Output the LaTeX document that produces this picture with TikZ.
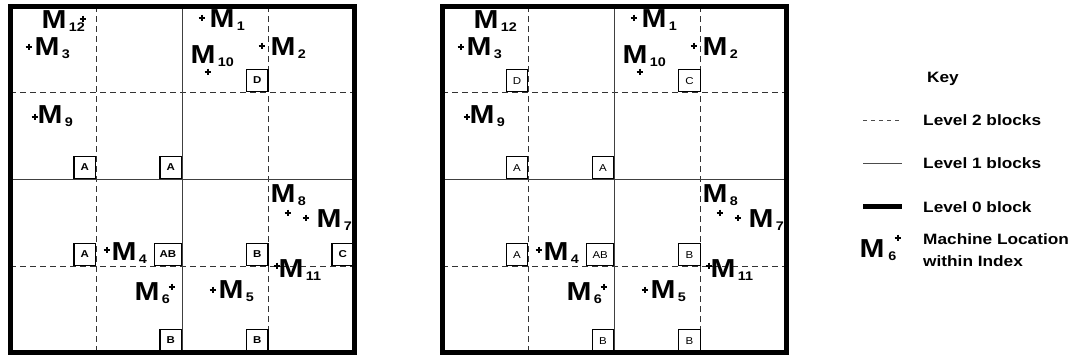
\documentclass[tikz,border=0pt]{standalone}
\usepackage{fontspec}
\setmainfont{Liberation Sans}[FakeStretch=1.15]
\newcommand\mach[4]{\node[mlab] (#1) at (#2,#3) {M\kern2.5pt\raisebox{-3pt}{\fontsize{12.5}{12.5}\selectfont #4}};}
\newcommand\plusat[2]{\draw[pl] (#1,#2) ++(-3.4,0) -- ++(6.8,0) ++(-3.4,-3.4) -- ++(0,6.8);}
\tikzset{
  mlab/.style={font=\bfseries\fontsize{26}{26}\selectfont, inner sep=0pt, anchor=base west},
  pl/.style={line width=1.25pt, black},
  lvltwo/.style={line width=0.8pt, dash pattern=on 6pt off 4pt, black!80},
  lvlone/.style={line width=0.9pt, black!75},
  lvlzero/.style={line width=5pt, black},
  lbox/.style={draw, line width=1.1pt, fill=white, inner sep=0pt, minimum width=21.5pt, minimum height=22pt, anchor=south east, font=\bfseries\fontsize{10}{10}\selectfont},
  rbox/.style={draw, line width=0.6pt, fill=white, inner sep=0pt, minimum width=21.5pt, minimum height=22pt, anchor=south east, font=\fontsize{10}{10}\selectfont},
  keytext/.style={font=\bfseries\fontsize{15}{17}\selectfont, inner sep=0pt, anchor=base west, align=left}
}
\begin{document}
\begin{tikzpicture}[x=1pt,y=-1pt]
\path[use as bounding box] (0,0) rectangle (1075,360);
% ---------- grids ----------
\foreach \o in {0,432}{
  \draw[lvltwo] (\o+96,6) -- (\o+96,352);
  \draw[lvltwo] (\o+268.5,6) -- (\o+268.5,352);
  \draw[lvltwo] (\o+10,92) -- (\o+354,92);
  \draw[lvltwo] (\o+10,266) -- (\o+354,266);
  \draw[lvlone] (\o+182,6) -- (\o+182,352);
  \draw[lvlone] (\o+10,179) -- (\o+354,179);
}
% ---------- left panel boxes ----------
\node[lbox] (lD) at (268.5,92) {D};
\node[lbox] (lA1) at (96,179) {A};
\node[lbox] (lA2) at (182,179) {A};
\node[lbox] (lA3) at (96,266) {A};
\node[lbox, minimum width=27pt] (lAB) at (182,266) {AB};
\node[lbox] (lB1) at (268.5,266) {B};
\node[lbox] (lC) at (354,266) {C};
\node[lbox] (lB2) at (182,352) {B};
\node[lbox] (lB3) at (268.5,352) {B};
% ---------- right panel boxes ----------
\node[rbox] (rD) at (528,92) {D};
\node[rbox] (rC) at (700.5,92) {C};
\node[rbox] (rA1) at (528,179) {A};
\node[rbox] (rA2) at (614,179) {A};
\node[rbox] (rA3) at (528,266) {A};
\node[rbox, minimum width=27pt] (rAB) at (614,266) {AB};
\node[rbox] (rB1) at (700.5,266) {B};
\node[rbox] (rB2) at (614,352) {B};
\node[rbox] (rB3) at (700.5,352) {B};
% ---------- frames ----------
\draw[lvlzero] (10,6) rectangle (354,352);
\draw[lvlzero] (442,6) rectangle (786,352);
% ---------- machines ----------
\foreach \o/\p in {0/L,432/R}{
  \mach{m12\p}{\o+41.3}{28}{12}
  \mach{m3\p}{\o+34.3}{55}{3}
  \mach{m1\p}{\o+209.3}{27}{1}
  \mach{m10\p}{\o+190.3}{63}{10}
  \mach{m2\p}{\o+270.3}{55}{2}
  \mach{m9\p}{\o+37.3}{123}{9}
  \mach{m8\p}{\o+270.3}{202}{8}
  \mach{m7\p}{\o+316.3}{227}{7}
  \mach{m4\p}{\o+111.3}{260}{4}
  \mach{m11\p}{\o+278.3}{277}{11}
  \mach{m6\p}{\o+134.3}{300}{6}
  \mach{m5\p}{\o+218.3}{298}{5}
  \plusat{\o+29}{47}
  \plusat{\o+202}{18}
  \plusat{\o+208}{72}
  \plusat{\o+262}{46}
  \plusat{\o+35}{117}
  \plusat{\o+288}{213}
  \plusat{\o+306}{218}
  \plusat{\o+107}{250}
  \plusat{\o+277}{266}
  \plusat{\o+172}{287}
  \plusat{\o+213}{290}
}
\plusat{83}{19}
% ---------- key ----------
\node[font=\bfseries\fontsize{15}{17}\selectfont, inner sep=0pt, anchor=base] (key) at (943,82) {Key};
\coordinate (k2a) at (863,120); \coordinate (k2b) at (902,120);
\coordinate (k1a) at (863,163); \coordinate (k1b) at (902,163);
\coordinate (k0a) at (863,206); \coordinate (k0b) at (902,206);
\draw[line width=0.7pt, black!70, dash pattern=on 4pt off 4pt] (k2a) -- (k2b);
\draw[line width=0.9pt, black!70] (k1a) -- (k1b);
\draw[line width=5pt, black] (k0a) -- (k0b);
\node[keytext] (t2) at (923,125) {Level 2 blocks};
\node[keytext] (t1) at (923,168) {Level 1 blocks};
\node[keytext] (t0) at (923,212) {Level 0 block};
\node[mlab] (keym) at (859.3,257) {M\kern4pt\raisebox{-3.5pt}{\fontsize{12.5}{12.5}\selectfont 6}};
\plusat{898}{238}
\node[keytext] (tm1) at (923,244) {Machine Location};
\node[keytext] (tm2) at (923,266) {within Index};
\end{tikzpicture}
\end{document}
